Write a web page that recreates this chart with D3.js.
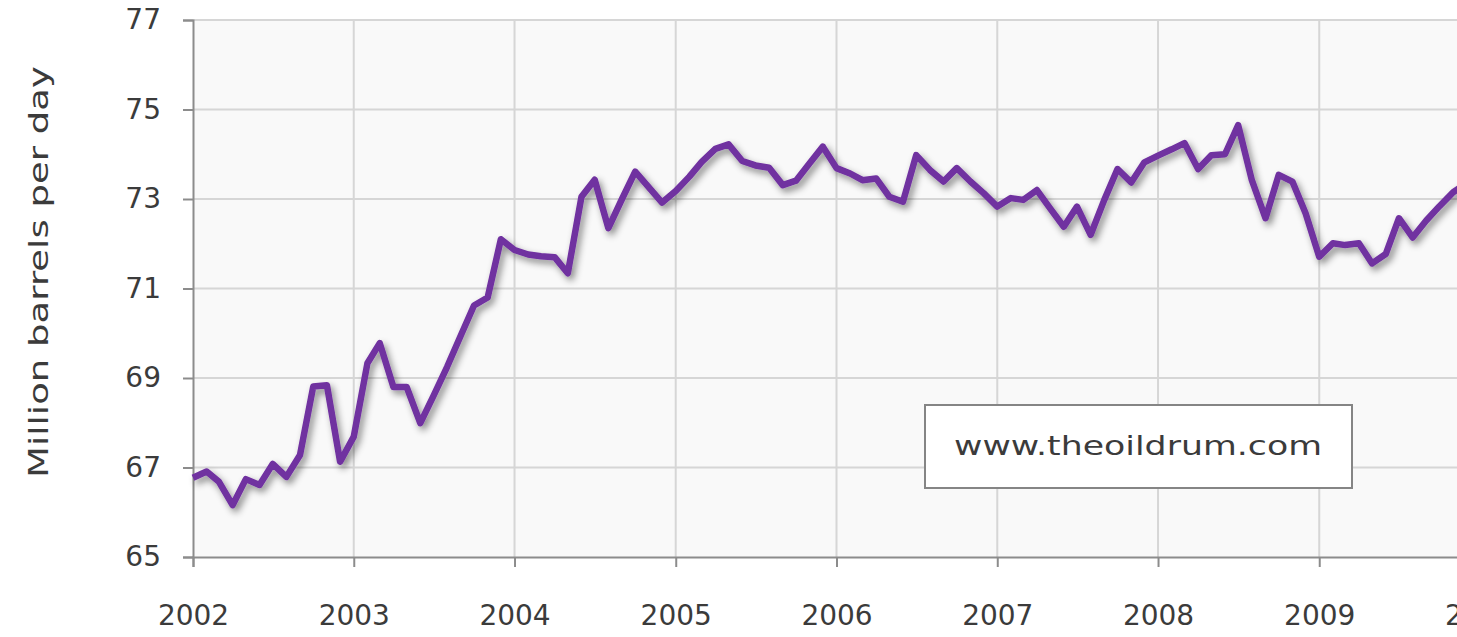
<!DOCTYPE html>
<html lang="en">
<head>
<meta charset="UTF-8">
<title>World oil production</title>
<script src="https://cdn.jsdelivr.net/npm/d3@7"></script>
<style>
  body { margin: 0; background: #fff; }
  svg text { font-family: "DejaVu Sans", sans-serif; fill: #3b3b3b; }
</style>
</head>
<body>
<script>

// chart data, monthly, million barrels per day
var startMonth = "2002-01";
var values = [
  66.77, 66.91, 66.68, 66.16, 66.74, 66.61, 67.08, 66.79, 67.28, 68.81, 68.84, 67.13,
  67.69, 69.33, 69.78, 68.80, 68.80, 67.99, 68.60, 69.25, 69.95, 70.62, 70.80, 72.10,
  71.86, 71.76, 71.72, 71.70, 71.34, 73.05, 73.43, 72.35, 73.00, 73.61, 73.26, 72.92,
  73.18, 73.50, 73.83, 74.12, 74.22, 73.85, 73.75, 73.70, 73.31, 73.41, 73.80, 74.17,
  73.69, 73.57, 73.42, 73.46, 73.05, 72.94, 73.98, 73.65, 73.39, 73.69, 73.39, 73.13,
  72.83, 73.02, 72.98, 73.20, 72.79, 72.38, 72.83, 72.20, 72.98, 73.67, 73.37, 73.82,
  73.97, 74.11, 74.25, 73.67, 73.98, 74.00, 74.65, 73.42, 72.57, 73.54, 73.39, 72.68,
  71.71, 72.01, 71.97, 72.01, 71.56, 71.77, 72.57, 72.14, 72.52, 72.84, 73.15, 73.35
];
var yTicks = [65, 67, 69, 71, 73, 75, 77];
var xYears = [2002, 2003, 2004, 2005, 2006, 2007, 2008, 2009, 2010];
var yTitle = "Million barrels per day";
var watermark = "www.theoildrum.com";

// Width and height
var w = 1457;
var h = 637;
var plotLeft = 193, plotTop = 20, plotBottom = 557;
var plotRight = 1480; // plot runs past the visible window

var parseMonth = d3.timeParse("%Y-%m");
var first = parseMonth(startMonth);
var data = values.map(function(v, i) {
  return { date: d3.timeMonth.offset(first, i), value: v };
});

var x = d3.scaleTime()
  .domain([new Date(xYears[0], 0, 1), new Date(xYears[xYears.length - 1], 0, 1)])
  .range([plotLeft, plotRight]);

var y = d3.scaleLinear()
  .domain([d3.min(yTicks), d3.max(yTicks)])
  .range([plotBottom, plotTop]);

var svg = d3.select("body")
  .append("svg")
  .attr("width", w)
  .attr("height", h);

var defs = svg.append("defs");
var shadow = defs.append("filter")
  .attr("id", "shadow")
  .attr("x", "-5%").attr("y", "-20%")
  .attr("width", "110%").attr("height", "140%");
shadow.append("feDropShadow")
  .attr("dx", 3).attr("dy", 4)
  .attr("stdDeviation", 3.5)
  .attr("flood-color", "#000")
  .attr("flood-opacity", 0.45);

// plot background
svg.append("rect")
  .attr("x", plotLeft).attr("y", plotTop)
  .attr("width", plotRight - plotLeft).attr("height", plotBottom - plotTop)
  .attr("fill", "#f9f9f9");

// gridlines
svg.append("g")
  .selectAll("line")
  .data(yTicks.slice(1))
  .enter()
  .append("line")
  .attr("x1", plotLeft).attr("x2", plotRight)
  .attr("y1", function(d) { return y(d); })
  .attr("y2", function(d) { return y(d); })
  .attr("stroke", "#d6d6d6")
  .attr("stroke-width", 2);

svg.append("g")
  .selectAll("line")
  .data(xYears.slice(1))
  .enter()
  .append("line")
  .attr("x1", function(d) { return x(new Date(d, 0, 1)); })
  .attr("x2", function(d) { return x(new Date(d, 0, 1)); })
  .attr("y1", plotTop).attr("y2", plotBottom)
  .attr("stroke", "#d6d6d6")
  .attr("stroke-width", 2);

// axes
var yAxis = d3.axisLeft(y)
  .tickValues(yTicks)
  .tickSize(10)
  .tickPadding(22)
  .tickFormat(d3.format("d"));

var xAxis = d3.axisBottom(x)
  .tickValues(xYears.map(function(d) { return new Date(d, 0, 1); }))
  .tickSize(10)
  .tickPadding(48)
  .tickFormat(d3.timeFormat("%Y"));

var gy = svg.append("g")
  .attr("transform", "translate(" + plotLeft + ",0)")
  .call(yAxis);

var gx = svg.append("g")
  .attr("transform", "translate(0," + plotBottom + ")")
  .call(xAxis);

[gx, gy].forEach(function(g) {
  g.attr("font-size", null).attr("font-family", null);
  g.select(".domain").attr("stroke", "#8c8c8c").attr("stroke-width", 2);
  g.selectAll(".tick line").attr("stroke", "#8c8c8c").attr("stroke-width", 2);
  g.selectAll(".tick text")
    .style("font-size", "28px")
    .attr("fill", "#3b3b3b");
});
gx.selectAll(".tick text").attr("dy", "0.35em");

// axis title
svg.append("text")
  .attr("transform", "translate(48,272) rotate(-90)")
  .attr("text-anchor", "middle")
  .style("font-size", "27px")
  .attr("textLength", 412)
  .attr("lengthAdjust", "spacingAndGlyphs")
  .attr("fill", "#444")
  .text(yTitle);

// the series
var line = d3.line()
  .x(function(d) { return x(d.date); })
  .y(function(d) { return y(d.value); });

svg.append("path")
  .datum(data)
  .attr("d", line)
  .attr("fill", "none")
  .attr("stroke", "#7030a0")
  .attr("stroke-width", 6.5)
  .attr("stroke-linejoin", "round")
  .attr("filter", "url(#shadow)");

// watermark box
var box = svg.append("g");
box.append("rect")
  .attr("x", 925).attr("y", 405)
  .attr("width", 427).attr("height", 83)
  .attr("fill", "#fff")
  .attr("stroke", "#858585")
  .attr("stroke-width", 2);
box.append("text")
  .attr("x", 1138).attr("y", 455)
  .attr("text-anchor", "middle")
  .style("font-size", "27px")
  .attr("textLength", 368)
  .attr("lengthAdjust", "spacingAndGlyphs")
  .attr("fill", "#444")
  .text(watermark);

</script>
</body>
</html>
